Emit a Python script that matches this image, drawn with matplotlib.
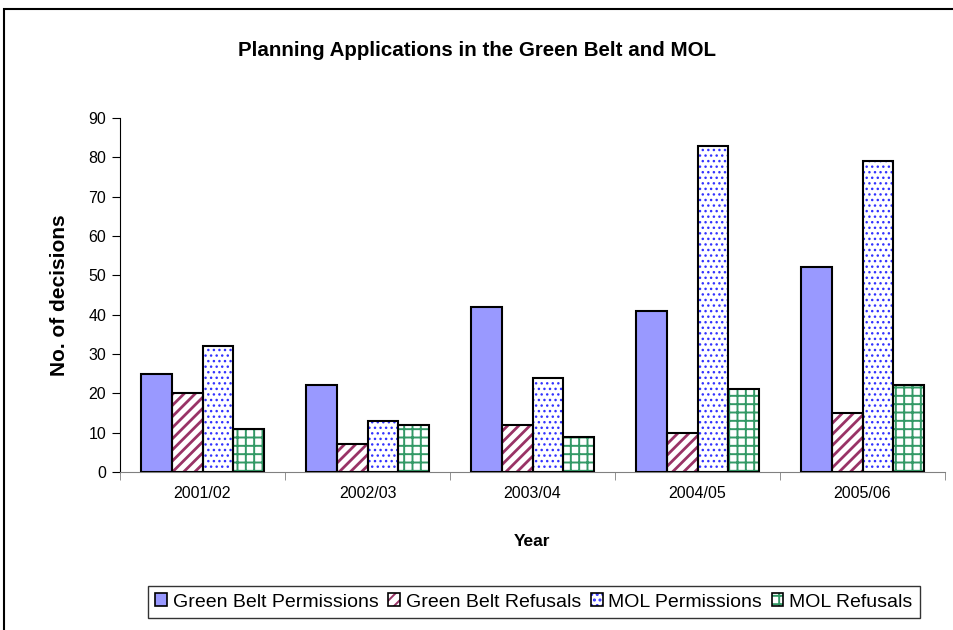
import matplotlib.pyplot as plt
import numpy as np
from matplotlib.patches import Patch, Rectangle

plt.rcParams['font.family'] = ['Liberation Sans', 'DejaVu Sans']

# Dados
anos = ["2001/02", "2002/03", "2003/04", "2004/05", "2005/06"]
series = ["Green Belt Permissions", "Green Belt Refusals", "MOL Permissions", "MOL Refusals"]
gb_permissoes = [25, 22, 42, 41, 52]
gb_recusas = [20, 7, 12, 10, 15]
mol_permissoes = [32, 13, 24, 83, 79]
mol_recusas = [11, 12, 9, 21, 22]

valores = [gb_permissoes, gb_recusas, mol_permissoes, mol_recusas]
# (face, cor do hatch, hatch, espessura do hatch)
estilos = [
    ("#9999FF", None, None, 1.0),
    ("white", "#993366", "///", 2.0),
    ("white", "#3333FF", "...", 1.0),
    ("white", "#339966", "++", 1.4),
]

fig = plt.figure(figsize=(9.54, 6.3), dpi=100)
ax = fig.add_axes([120 / 954, 1 - 472 / 630, 825 / 954, 354 / 630])

x = np.arange(len(anos))
largura = 0.1875
handles = []
for i, (vals, (face, hcor, hatch, hlw)) in enumerate(zip(valores, estilos)):
    pos = x + (i - 1.5) * largura
    plt.rcParams['hatch.linewidth'] = hlw
    if hatch:
        ax.bar(pos, vals, largura, color=face, edgecolor=hcor, hatch=hatch, linewidth=0, zorder=2)
        ax.bar(pos, vals, largura, facecolor="none", edgecolor="black", linewidth=1.5, zorder=3)
        h1 = Patch(facecolor=face, edgecolor=hcor, hatch=hatch, linewidth=0)
        h2 = Patch(facecolor="none", edgecolor="black", linewidth=1.2)
        handles.append((h1, h2))
    else:
        ax.bar(pos, vals, largura, color=face, edgecolor="black", linewidth=1.5, zorder=3)
        handles.append(Patch(facecolor=face, edgecolor="black", linewidth=1.2))

ax.set_xlim(-0.5, len(anos) - 0.5)
ax.set_ylim(0, 90)
ax.set_yticks(range(0, 91, 10))
ax.set_xticks(x)
ax.set_xticklabels(anos)
ax.set_xticks(np.arange(-0.5, len(anos), 1), minor=True)
ax.tick_params(axis="x", which="major", length=0, labelsize=11.5, pad=10)
ax.tick_params(axis="x", which="minor", length=6, direction="out", color="#808080")
ax.tick_params(axis="y", length=6, direction="out", color="black", labelsize=11.5, pad=4)
for s in ["top", "right"]:
    ax.spines[s].set_visible(False)
ax.spines["left"].set_color("black")
ax.spines["bottom"].set_color("#808080")

ax.set_xlabel("Year", fontsize=12.5, fontweight="bold", labelpad=24)
ax.set_ylabel("No. of decisions", fontsize=15, fontweight="bold", labelpad=14)
fig.text(0.5, 1 - 51 / 630, "Planning Applications in the Green Belt and MOL",
         ha="center", va="center", fontsize=14.8, fontweight="bold")

leg = fig.legend(handles, series, loc="center", bbox_to_anchor=(534 / 954, 1 - 602 / 630),
                 ncol=4, fontsize=14, frameon=True, fancybox=False, edgecolor="black",
                 handlelength=0.6, handleheight=0.6, handletextpad=0.3, columnspacing=0.5,
                 borderpad=0.4)
leg.get_frame().set_linewidth(1.0)

# Moldura externa
fig.patches.append(Rectangle((4 / 954, -0.1), 1.1, 1 - 9 / 630 + 0.1, transform=fig.transFigure,
                             fill=False, edgecolor="black", linewidth=1.5))

fig.savefig("out.png", dpi=100)
